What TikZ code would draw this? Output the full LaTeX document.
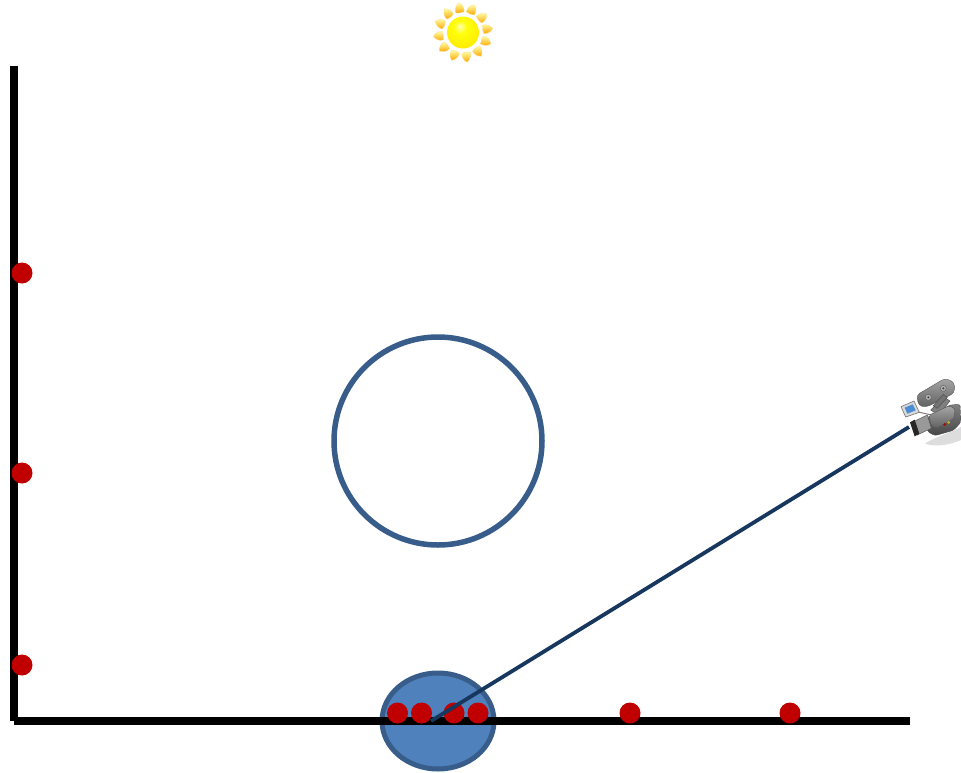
\documentclass[tikz,border=0pt]{standalone}
\usetikzlibrary{shapes.geometric}
\definecolor{ringblue}{HTML}{385D8A}
\definecolor{fillblue}{HTML}{4F81BD}
\definecolor{dotred}{HTML}{C00000}
\definecolor{rayblue}{HTML}{17375E}
\definecolor{sunedge}{HTML}{F7C52B}
\pgfdeclareradialshading{sunball}{\pgfpoint{-5bp}{10bp}}{color(0bp)=(yellow!30!white); color(10bp)=(yellow!95!white); color(30bp)=(yellow!85!orange); color(48bp)=(orange!70!yellow); color(62bp)=(orange)}
\begin{document}
\begin{tikzpicture}[x=1pt,y=-1pt,
  axisline/.style={line width=7.7pt,black},
  reddot/.style={circle,fill=dotred,draw=none,minimum size=21pt,inner sep=0pt},
  bigring/.style={circle,draw=ringblue,line width=5.5pt,minimum size=208pt,inner sep=0pt,outer sep=0pt},
  blob/.style={ellipse,draw=ringblue,fill=fillblue,line width=5pt,minimum width=112pt,minimum height=96pt,inner sep=0pt},
  sunray/.style={top color=yellow!35!white,bottom color=orange!70!yellow,draw=sunedge!60!white,line width=0.3pt},
  camdark/.style={top color=black!50,bottom color=black!72,draw=black!70,line width=0.4pt},
  camlight/.style={top color=black!35,bottom color=black!62,draw=black!65,line width=0.4pt}]
\useasboundingbox (0,0) rectangle (961,772);
% Floor ellipse and ring
\node[blob] (spot) at (438,721) {};
\node[bigring] (ring) at (438,441) {};
% Axes
\coordinate (ytop) at (14,66);
\coordinate (xend) at (910,721);
\coordinate (xstart) at (14,721);
\draw[axisline] (ytop) -- (14,721);
\draw[axisline] (xstart) -- (xend);
% Dots
\foreach \n/\x/\y in {a/397.5/713,b/421.5/713,c/454/713,d/478/713,e/630/713,f/790/713,g/22/273,h/22/473,i/22/665}
  \node[reddot] (\n) at (\x,\y) {};
% Ray
\coordinate (hit) at (431,721);
\coordinate (lens) at (909,427);
\draw[rayblue,line width=3.8pt] (hit) -- (lens);
% Sun
\begin{scope}[shift={(463,32.5)}]
  \foreach \a in {0,30,...,330}
    \draw[sunray,rotate=\a+8] (20.5,-4.5) .. controls (24,-5.5) and (28,-3) .. (30,0) .. controls (28,3.5) and (24,4.5) .. (20.5,4) .. controls (19.5,1) and (19.5,-2) .. (20.5,-4.5) -- cycle;
  \shade[shading=sunball] (0,0) circle (16);
\end{scope}
% Camera
\begin{scope}[shift={(890,365)},x=0.3333pt,y=-0.3333pt]
  \fill[black!22,opacity=.6] (105,235) .. controls (150,210) and (190,200) .. (213,185) -- (213,225) .. controls (180,240) and (130,248) .. (105,235) -- cycle;
  % monitor arm and monitor
  \draw[black!50,line width=1pt] (80,140) -- (125,150);
  \draw[black!55,fill=black!15,line width=.6pt] (33,125) -- (72,108) -- (88,142) -- (47,156) -- cycle;
  \fill[cyan!55!blue!75] (44,128) -- (68,118) -- (77,136) -- (52,146) -- cycle;
  % mount
  \draw[black!70,fill=black!50,line width=.4pt] (122,135) -- (160,95) -- (180,108) -- (145,150) -- cycle;
  % body
  \draw[camdark,rounded corners=2.5pt] (108,160) -- (180,120) -- (211,118) -- (213,172) -- (190,196) -- (135,212) -- (113,200) -- cycle;
  \draw[camlight,rounded corners=1.5pt] (118,150) -- (178,122) -- (195,132) -- (192,160) -- (140,190) -- (122,180) -- cycle;
  % film reel
  \draw[camlight,rounded corners=3.5pt] (80,90) -- (165,40) -- (193,52) -- (193,84) -- (110,126) -- (86,122) -- cycle;
  \draw[black!65,line width=.4pt,fill=black!30] (115,97) circle (9);
  \draw[black!65,line width=.4pt,fill=black!30] (160,70) circle (9);
  \fill[black!75] (115,97) circle (3.5);
  \fill[black!75] (160,70) circle (3.5);
  \draw[black!70,fill=black!55,line width=.4pt] (130,122) -- (160,88) -- (172,97) -- (142,130) -- cycle;
  \fill[red!70!black] (164,178) circle (4.5);
  \fill[yellow!70!black] (176,172) circle (4.5);
  % lens
  \draw[black!70,fill=black!40,line width=.4pt] (70,170) -- (112,150) -- (124,190) -- (82,210) -- cycle;
  \fill[black!85] (60,172) -- (74,164) -- (88,206) -- (74,214) -- cycle;
\end{scope}
\end{tikzpicture}
\end{document}
